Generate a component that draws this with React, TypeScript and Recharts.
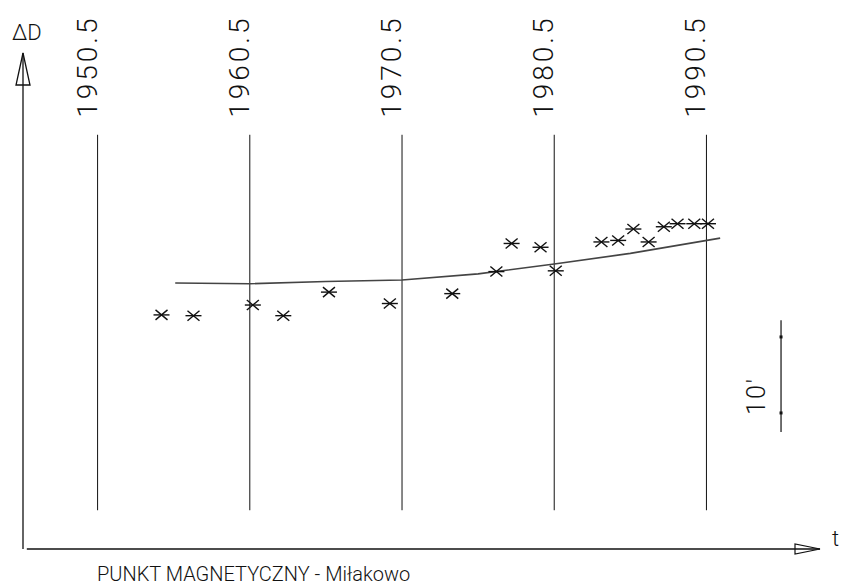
import React from 'react';
import { ComposedChart, XAxis, YAxis, Scatter, Line, ReferenceLine, ReferenceDot } from 'recharts';

// epochs of the observations (year) and declination anomaly ΔD (arc minutes)
const epochs = [
  1954.7, 1956.8, 1960.7, 1962.7, 1965.7, 1969.7, 1973.8, 1976.7, 1977.7, 1979.6,
  1980.6, 1983.6, 1984.7, 1985.7, 1986.7, 1987.7, 1988.6, 1989.7, 1990.6,
];
const deltaD = [
  30.8, 30.7, 32.1, 30.7, 33.8, 32.3, 33.6, 36.5, 40.2, 39.7,
  36.6, 40.4, 40.6, 42.1, 40.4, 42.4, 42.8, 42.8, 42.8,
];

// fitted trend
const trendEpochs = [1955.6, 1960.5, 1965.5, 1970.5, 1975.5, 1980.5, 1985.5, 1991.4];
const trendD = [35.0, 34.9, 35.2, 35.4, 36.2, 37.5, 38.9, 40.9];

// vertical reference epochs
const gridEpochs = [1950.5, 1960.5, 1970.5, 1980.5, 1990.5];
const gridLabels = ['1950.5', '1960.5', '1970.5', '1980.5', '1990.5'];

const scaleLabel = "10'";
const scaleSize = 10; // arc minutes
const title = 'PUNKT MAGNETYCZNY - Miłakowo';

const points = epochs.map((t, i) => ({ t, d: deltaD[i] }));
const trend = trendEpochs.map((t, i) => ({ t, d: trendD[i] }));

const X_MIN = 1945.6;
const X_MAX = 1997.96;
const Y_MAX = 65.26;
const GRID_BOTTOM = 5.1;
const GRID_TOP = 54.5;
const SCALE_X = 1995.4;
const SCALE_LOW = 17.9;

const THIN = 'Roboto, "DejaVu Sans", sans-serif';
const INK = '#111';

const Asterisk = (props: any) => {
  const { cx, cy } = props;
  if (cx == null || cy == null) return null;
  return (
    <g stroke={INK} strokeWidth={1.4}>
      <line x1={cx - 8} y1={cy} x2={cx + 8} y2={cy} />
      <line x1={cx - 6} y1={cy - 5} x2={cx + 6} y2={cy + 5} />
      <line x1={cx - 6} y1={cy + 5} x2={cx + 6} y2={cy - 5} />
    </g>
  );
};

const yearLabel = (text: string) => (props: any) => {
  const vb = props.viewBox || {};
  const x = vb.x - 1;
  const y = vb.y - 17;
  return (
    <text
      x={x}
      y={y}
      transform={`rotate(-90 ${x} ${y})`}
      fontFamily={THIN}
      fontWeight={300}
      fontSize={28}
      letterSpacing={3}
      fill={INK}
      textAnchor="start"
    >
      {text}
    </text>
  );
};

const UpArrow = (props: any) => {
  const { cx, cy } = props;
  return (
    <g>
      <polygon
        points={`${cx},${cy} ${cx - 7},${cy + 32} ${cx + 7},${cy + 32}`}
        fill="none"
        stroke={INK}
        strokeWidth={1.3}
      />
      <text x={cx - 11} y={cy - 13} fontFamily={THIN} fontWeight={300} fontSize={22} fill={INK}>
        ΔD
      </text>
    </g>
  );
};

const RightArrow = (props: any) => {
  const { cx, cy } = props;
  return (
    <g>
      <polygon
        points={`${cx},${cy} ${cx - 25},${cy - 5} ${cx - 25},${cy + 5}`}
        fill="none"
        stroke={INK}
        strokeWidth={1.2}
      />
      <text x={cx + 12} y={cy - 3} fontFamily={THIN} fontWeight={300} fontSize={22} fill={INK}>
        t
      </text>
    </g>
  );
};

const ScaleDot = (props: any) => {
  const { cx, cy } = props;
  return <rect x={cx - 1.5} y={cy - 1.5} width={3} height={3} fill={INK} />;
};

const ScaleText = (props: any) => {
  const { cx, cy } = props;
  const x = cx - 16;
  const y = cy + 2;
  return (
    <text
      x={x}
      y={y}
      transform={`rotate(-90 ${x} ${y})`}
      fontFamily={THIN}
      fontWeight={300}
      fontSize={25}
      letterSpacing={2}
      fill={INK}
    >
      {scaleLabel}
    </text>
  );
};

export default function App() {
  return (
    <div style={{ position: 'relative', width: 846, height: 587, background: '#fff' }}>
      <style>{'body{margin:0;}'}</style>
      <ComposedChart
        width={846}
        height={587}
        margin={{ top: 53, right: 26, bottom: 38, left: 23 }}
      >
        <XAxis dataKey="t" type="number" domain={[X_MIN, X_MAX]} hide allowDataOverflow />
        <YAxis type="number" domain={[0, Y_MAX]} hide allowDataOverflow />

        {gridEpochs.map((yr, i) => (
          <ReferenceLine
            key={yr}
            segment={[
              { x: yr, y: GRID_BOTTOM },
              { x: yr, y: GRID_TOP },
            ]}
            stroke={INK}
            strokeWidth={1}
            ifOverflow="visible"
            label={yearLabel(gridLabels[i])}
          />
        ))}

        {/* axes */}
        <ReferenceLine
          segment={[
            { x: X_MIN, y: 0 },
            { x: X_MIN, y: Y_MAX },
          ]}
          stroke={INK}
          strokeWidth={1.3}
          ifOverflow="visible"
        />
        <ReferenceLine
          segment={[
            { x: X_MIN + 0.25, y: 0 },
            { x: X_MAX, y: 0 },
          ]}
          stroke={INK}
          strokeWidth={1.3}
          ifOverflow="visible"
        />
        <ReferenceDot x={X_MIN} y={Y_MAX} ifOverflow="visible" shape={UpArrow} />
        <ReferenceDot x={X_MAX} y={0} ifOverflow="visible" shape={RightArrow} />

        {/* 10' scale bar */}
        <ReferenceLine
          segment={[
            { x: SCALE_X, y: SCALE_LOW - 2.5 },
            { x: SCALE_X, y: SCALE_LOW + scaleSize + 2.2 },
          ]}
          stroke={INK}
          strokeWidth={1.2}
          ifOverflow="visible"
        />
        <ReferenceDot x={SCALE_X} y={SCALE_LOW} ifOverflow="visible" shape={ScaleDot} />
        <ReferenceDot x={SCALE_X} y={SCALE_LOW + scaleSize} ifOverflow="visible" shape={ScaleDot} />
        <ReferenceDot x={SCALE_X} y={SCALE_LOW} ifOverflow="visible" shape={ScaleText} />

        <Line
          data={trend}
          dataKey="d"
          type="linear"
          stroke="#444"
          strokeWidth={1.6}
          dot={false}
          activeDot={false}
          isAnimationActive={false}
        />
        <Scatter data={points} dataKey="d" shape={Asterisk} isAnimationActive={false} />
      </ComposedChart>
      <div
        style={{
          position: 'absolute',
          left: 97,
          top: 564,
          fontFamily: THIN,
          fontWeight: 300,
          fontSize: 20,
          letterSpacing: 0,
          lineHeight: '20px',
          color: INK,
          whiteSpace: 'pre',
        }}
      >
        {title}
      </div>
    </div>
  );
}
